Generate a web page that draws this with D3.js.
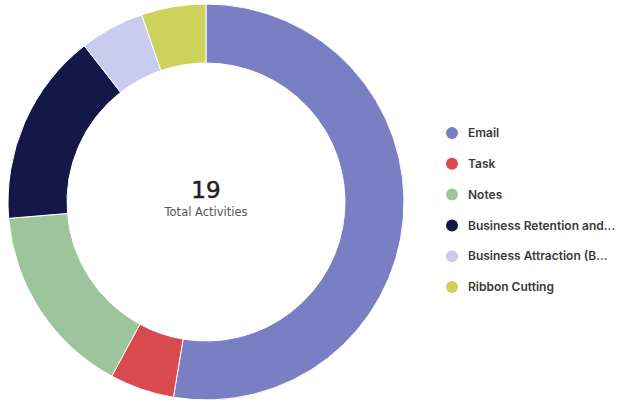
<!DOCTYPE html>
<html><head><meta charset="utf-8">
<script src="https://cdn.jsdelivr.net/npm/d3@7"></script>
<style>body{margin:0;background:#fff;}svg{display:block;}</style>
</head><body>
<svg id="chart" width="630" height="402"></svg>
<script>
const categories = ["Email","Task","Notes","Business Retention and...","Business Attraction (B...","Ribbon Cutting"];
const values = [10,1,3,3,1,1];
const colors = ["#7a7ec3","#d94a4f","#9dc59b","#131848","#c9ccee","#ccd25b"];
const totalLabel = "Total Activities";

const svg = d3.select("#chart");
const cx = 206, cy = 202, outerR = 198, innerR = 139;
const pie = d3.pie().sort(null).value(d => d.v);
const data = pie(categories.map((c,i)=>({c, v: values[i], col: colors[i]})));
const arc = d3.arc().innerRadius(innerR).outerRadius(outerR);
const g = svg.append("g").attr("transform",`translate(${cx},${cy})`);
g.selectAll("path").data(data).join("path")
  .attr("d", arc).attr("fill", d=>d.data.col)
  .attr("stroke","#fff").attr("stroke-width",1);

const total = d3.sum(values);
g.append("text").attr("text-anchor","middle").attr("y",-4)
  .attr("font-family","DejaVu Sans, sans-serif").attr("font-size",23)
  .attr("fill","#222").attr("stroke","#222").attr("stroke-width",0.5).text(total);
g.append("text").attr("text-anchor","middle").attr("y",14)
  .attr("font-family","DejaVu Sans, sans-serif").attr("font-size",11.5)
  .attr("fill","#555").text(totalLabel);

const ly = d3.scalePoint().domain(categories).range([133,287]);
const lg = svg.append("g");
const items = lg.selectAll("g").data(categories).join("g")
  .attr("transform", d=>`translate(452,${ly(d)})`);
items.append("circle").attr("r",6).attr("fill",(d,i)=>colors[i]);
items.append("text").attr("x",16).attr("dy","0.35em")
  .attr("font-family","Inter, sans-serif").attr("font-size",12).attr("font-weight",600)
  .attr("fill","#3a3a3a").text(d=>d);
</script>
</body></html>
